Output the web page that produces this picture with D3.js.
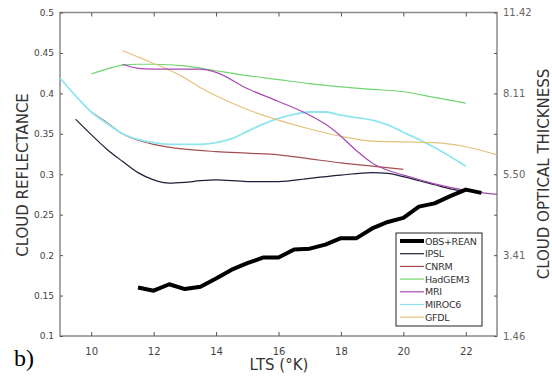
<!DOCTYPE html>
<html>
<head>
<meta charset="utf-8">
<script src="https://cdn.jsdelivr.net/npm/d3@7"></script>
<style>
  body { margin: 0; background: #fff; }
  text { font-family: "DejaVu Sans", sans-serif; }
</style>
</head>
<body>
<script>
var width = 552;
var height = 384;

// LTS values and reflectance
var obsX = [11.5, 12, 12.5, 13, 13.5, 14, 14.5, 15, 15.5, 16, 16.5, 17, 17.5, 18, 18.5, 19, 19.5, 20, 20.5, 21, 21.5, 22, 22.5];
var obsY = [0.160, 0.156, 0.164, 0.158, 0.161, 0.171, 0.182, 0.190, 0.197, 0.197, 0.207, 0.208, 0.213, 0.221, 0.221, 0.233, 0.241, 0.246, 0.260, 0.264, 0.273, 0.281, 0.277];

var ipslX = [9.5, 10, 10.5, 11, 11.5, 12, 12.5, 13, 13.5, 14, 15, 16, 17, 18, 19, 19.5, 20, 20.5, 21, 21.5, 22];
var ipslY = [0.368, 0.349, 0.331, 0.316, 0.302, 0.293, 0.289, 0.290, 0.292, 0.293, 0.291, 0.291, 0.295, 0.299, 0.302, 0.301, 0.297, 0.292, 0.287, 0.282, 0.279];

var cnrmX = [10, 10.5, 11, 11.5, 12, 13, 14, 15, 16, 17, 18, 19, 20];
var cnrmY = [0.377, 0.364, 0.350, 0.342, 0.337, 0.331, 0.328, 0.326, 0.324, 0.319, 0.314, 0.310, 0.306];

var hadX = [10, 10.5, 11, 11.5, 12, 13, 14, 15, 16, 17, 18, 19, 20, 21, 22];
var hadY = [0.424, 0.430, 0.435, 0.436, 0.436, 0.434, 0.428, 0.422, 0.417, 0.412, 0.408, 0.405, 0.402, 0.395, 0.388];

var mriX = [11, 11.5, 12, 13, 13.5, 14, 15, 16, 17, 17.5, 18, 18.5, 19, 19.5, 20, 21, 22, 23];
var mriY = [0.436, 0.431, 0.430, 0.430, 0.430, 0.426, 0.406, 0.390, 0.373, 0.362, 0.347, 0.329, 0.314, 0.305, 0.299, 0.288, 0.280, 0.275];

var mirocX = [9, 9.5, 10, 10.5, 11, 11.5, 12, 12.5, 13, 13.5, 14, 14.5, 15, 15.5, 16, 16.5, 17, 17.5, 18, 18.5, 19, 19.5, 20, 20.5, 21, 21.5, 22];
var mirocY = [0.419, 0.397, 0.377, 0.363, 0.350, 0.343, 0.339, 0.337, 0.337, 0.337, 0.339, 0.344, 0.353, 0.362, 0.369, 0.374, 0.377, 0.377, 0.373, 0.370, 0.367, 0.361, 0.352, 0.343, 0.333, 0.322, 0.310];

var gfdlX = [11, 11.5, 12, 12.5, 13, 13.5, 14, 15, 16, 17, 18, 19, 20, 21, 22, 23];
var gfdlY = [0.453, 0.445, 0.437, 0.429, 0.419, 0.407, 0.397, 0.380, 0.367, 0.356, 0.347, 0.341, 0.340, 0.339, 0.334, 0.324];

var seriesNames = ['OBS+REAN', 'IPSL', 'CNRM', 'HadGEM3', 'MRI', 'MIROC6', 'GFDL'];
var seriesColors = ['#000000', '#1e1e3a', '#a55050', '#70d670', '#a64ab0', '#8fe6ee', '#e3c27c'];

var xTicks = [10, 12, 14, 16, 18, 20, 22];
var yTicks = [0.1, 0.15, 0.2, 0.25, 0.3, 0.35, 0.4, 0.45, 0.5];
var yLabels = ['0.1', '0.15', '0.2', '0.25', '0.3', '0.35', '0.4', '0.45', '0.5'];
// right axis: optical thickness, labelled on every other tick
var rightLabels = ['1.46', '', '3.41', '', '5.50', '', '8.11', '', '11.42'];

var plotLeft = 60, plotRight = 497, plotTop = 12.5, plotBottom = 336;

var svg = d3.select('body')
  .append('svg')
  .attr('width', width)
  .attr('height', height);

var x = d3.scaleLinear().domain([9, 23]).range([plotLeft, plotRight]);
var y = d3.scaleLinear().domain([0.1, 0.5]).range([plotBottom, plotTop]);

var axisColor = '#8a8a8a';

function styleAxis(g) {
  g.select('.domain').remove();
  g.selectAll('line').attr('stroke', '#555').attr('stroke-width', 1);
  g.selectAll('text').attr('fill', '#444').style('font-size', '9px');
}

// box
svg.append('rect')
  .attr('x', plotLeft).attr('y', plotTop)
  .attr('width', plotRight - plotLeft).attr('height', plotBottom - plotTop)
  .attr('fill', 'none')
  .attr('stroke', axisColor)
  .attr('stroke-width', 1.5);

// bottom axis (ticks inward)
svg.append('g')
  .attr('transform', 'translate(0,' + plotBottom + ')')
  .call(d3.axisBottom(x).tickValues(xTicks).tickSize(-4).tickPadding(12))
  .call(styleAxis)
  .selectAll('text').style('font-size', '10px');

// top axis, ticks only
svg.append('g')
  .attr('transform', 'translate(0,' + plotTop + ')')
  .call(d3.axisTop(x).tickValues(xTicks).tickSize(-4).tickFormat(''))
  .call(styleAxis);

// left axis
svg.append('g')
  .attr('transform', 'translate(' + plotLeft + ',0)')
  .call(d3.axisLeft(y).tickValues(yTicks).tickSize(-3).tickPadding(6)
    .tickFormat(function(d, i) { return yLabels[i]; }))
  .call(styleAxis);

// right axis
svg.append('g')
  .attr('transform', 'translate(' + plotRight + ',0)')
  .call(d3.axisRight(y).tickValues(yTicks).tickSize(-3).tickPadding(6)
    .tickFormat(function(d, i) { return rightLabels[i]; }))
  .call(styleAxis)
  .selectAll('text').attr('fill', '#666').style('font-size', '10px');

// model lines
var models = [
  [ipslX, ipslY, 1],
  [cnrmX, cnrmY, 2],
  [hadX, hadY, 3],
  [mirocX, mirocY, 5],
  [gfdlX, gfdlY, 6],
  [mriX, mriY, 4]
];

var smooth = d3.line()
  .x(function(d) { return x(d[0]); })
  .y(function(d) { return y(d[1]); })
  .curve(d3.curveMonotoneX);

models.forEach(function(m) {
  var pts = d3.zip(m[0], m[1]);
  svg.append('path')
    .datum(pts)
    .attr('fill', 'none')
    .attr('stroke', seriesColors[m[2]])
    .attr('stroke-width', m[2] == 5 ? 1.8 : 1.2)
    .attr('d', smooth);
});

// observations
var straight = d3.line()
  .x(function(d) { return x(d[0]); })
  .y(function(d) { return y(d[1]); });

svg.append('path')
  .datum(d3.zip(obsX, obsY))
  .attr('fill', 'none')
  .attr('stroke', '#000')
  .attr('stroke-width', 4)
  .attr('stroke-linejoin', 'round')
  .attr('d', straight);

// legend
var legend = svg.append('g').attr('transform', 'translate(396,233)');
legend.append('rect')
  .attr('width', 86).attr('height', 93)
  .attr('fill', '#fff')
  .attr('stroke', '#222')
  .attr('stroke-width', 1);

seriesNames.forEach(function(name, i) {
  var yy = 8 + i * 12.7;
  legend.append('line')
    .attr('x1', 4).attr('x2', 28)
    .attr('y1', yy).attr('y2', yy)
    .attr('stroke', seriesColors[i])
    .attr('stroke-width', i == 0 ? 4 : 1.2);
  legend.append('text')
    .attr('x', 29).attr('y', yy + 3.5)
    .attr('fill', '#333')
    .style('font-size', '9.5px')
    .style('letter-spacing', '-0.3px')
    .text(name);
});

// axis titles
svg.append('text')
  .attr('transform', 'translate(28,175) rotate(-90)')
  .attr('text-anchor', 'middle')
  .attr('fill', '#333')
  .style('font-size', '15px')
  .text('CLOUD REFLECTANCE');

svg.append('text')
  .attr('transform', 'translate(549,174) rotate(-90)')
  .attr('text-anchor', 'middle')
  .attr('fill', '#333')
  .style('font-size', '15px')
  .text('CLOUD OPTICAL THICKNESS');

svg.append('text')
  .attr('x', 279).attr('y', 370)
  .attr('text-anchor', 'middle')
  .attr('fill', '#333')
  .style('font-size', '15px')
  .text('LTS (°K)');

svg.append('text')
  .attr('x', 14).attr('y', 366)
  .attr('fill', '#000')
  .style('font-family', '"Liberation Serif", serif')
  .style('font-size', '24px')
  .text('b)');
</script>
</body>
</html>
